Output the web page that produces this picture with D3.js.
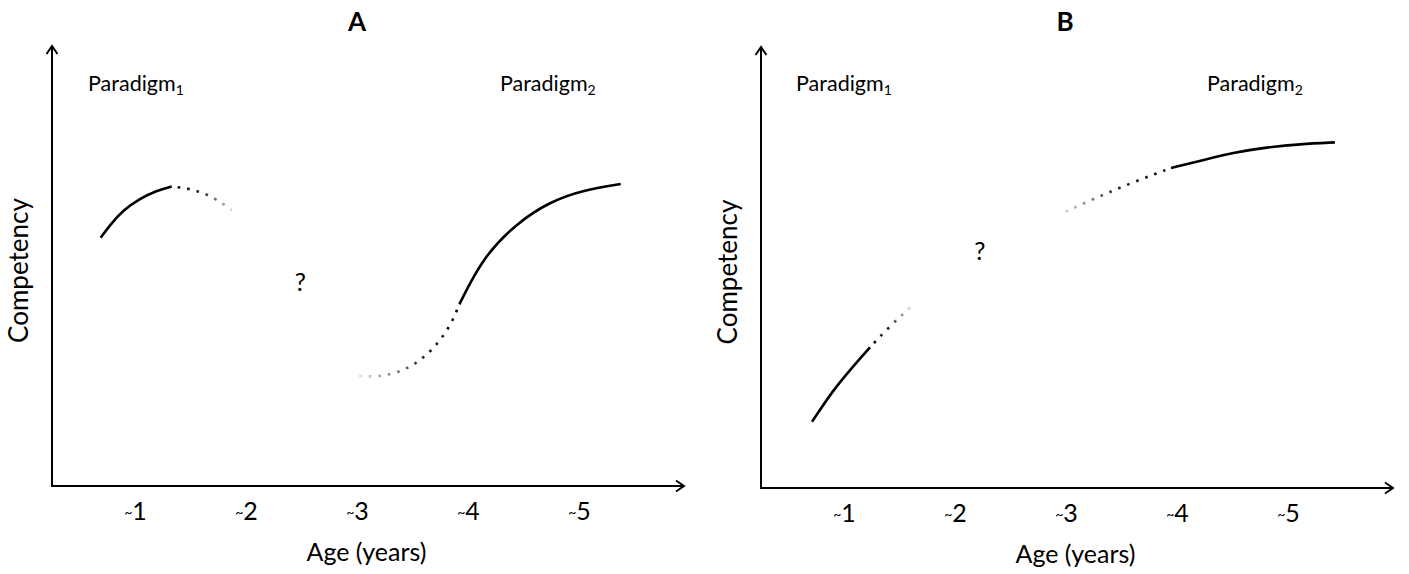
<!DOCTYPE html>
<html><head><meta charset="utf-8">
<script src="https://cdn.jsdelivr.net/npm/d3@7"></script>
<style>
body{margin:0;background:#fff}
text{font-family:Lato,"Open Sans",sans-serif;fill:#000}
</style>
</head><body>
<svg id="c" width="1409" height="574"></svg>
<script>
// ---------- data ----------
const panelTitles = ["A", "B"];
const tickYears = [1, 2, 3, 4, 5];
const tickLabels = ["~1", "~2", "~3", "~4", "~5"];
const xTitle = "Age (years)";
const yTitle = "Competency";
const paradigmNames = ["Paradigm", "Paradigm"];
const paradigmSubs = ["1", "2"];
const questionMark = "?";

// Panel A  [age (years), competency 0-100]
const a1Solid  = [[0.691,56.3],[0.775,59.2],[0.895,62.6],[1.045,65.2],[1.195,67.0],[1.331,67.9]];
const a1Dotted = [[1.331,67.9],[1.484,67.5],[1.651,66.2],[1.802,63.9],[1.874,62.5]];
const a2Dotted = [[3.003,25.0],[3.180,24.7],[3.354,25.6],[3.511,27.4],[3.651,30.2],[3.768,33.6],[3.859,37.3],[3.922,41.2]];
const a2Solid  = [[3.922,41.2],[4.138,52.0],[4.439,59.6],[4.739,64.5],[5.039,67.1],[5.376,68.5]];
const aParadigmPos = [[0.577,89.6],[4.288,89.6]];
const aQuestionPos = [2.49,44.9];

// Panel B
const b1Solid  = [[0.712,15.0],[0.904,22.2],[1.054,26.7],[1.234,31.8]];
const b1Dotted = [[1.234,31.8],[1.403,36.4],[1.601,40.95]];
const b2Dotted = [[2.961,62.1],[3.282,65.8],[3.606,69.2],[3.946,72.4]];
const b2Solid  = [[3.946,72.4],[4.207,74.0],[4.508,75.9],[4.809,77.1],[5.108,77.8],[5.423,78.2]];
const bParadigmPos = [[0.568,89.8],[4.270,89.8]];
const bQuestionPos = [2.225,52.3];

// ---------- layout ----------
const panels = [
  {title: panelTitles[0], xr: [24, 579], yr: [486, 45], axisX: 52, axisEnd: 685, titleX: 357,
   yTitleX: 28, solids: [a1Solid, a2Solid], dotted: [{pts: a1Dotted, fromStart: true}, {pts: a2Dotted, fromStart: false}],
   par: aParadigmPos, q: aQuestionPos},
  {title: panelTitles[1], xr: [733, 1288], yr: [488, 46], axisX: 761, axisEnd: 1394, titleX: 1065,
   yTitleX: 737, solids: [b1Solid, b2Solid], dotted: [{pts: b1Dotted, fromStart: true}, {pts: b2Dotted, fromStart: false}],
   par: bParadigmPos, q: bQuestionPos}
];

const svg = d3.select("#c");
const defs = svg.append("defs");
defs.append("marker").attr("id", "arr").attr("markerUnits", "userSpaceOnUse")
  .attr("viewBox", "-10 -7 12 14").attr("refX", 0).attr("refY", 0)
  .attr("markerWidth", 12).attr("markerHeight", 14).attr("orient", "auto")
  .append("path").attr("d", "M-8,-5.5L0,0L-8,5.5").attr("fill", "none")
  .attr("stroke", "#000").attr("stroke-width", 2);

let gid = 0;
panels.forEach(p => {
  const x = d3.scaleLinear().domain([0, 5]).range(p.xr);
  const y = d3.scaleLinear().domain([0, 100]).range(p.yr);
  const g = svg.append("g");
  const y0 = y(0), yTop = y(100);

  // axes
  g.append("line").attr("x1", p.axisX).attr("y1", y0).attr("x2", p.axisX).attr("y2", yTop + 1)
    .attr("stroke", "#000").attr("stroke-width", 2).attr("marker-end", "url(#arr)");
  g.append("line").attr("x1", p.axisX - 1).attr("y1", y0).attr("x2", p.axisEnd - 1).attr("y2", y0)
    .attr("stroke", "#000").attr("stroke-width", 2.2).attr("marker-end", "url(#arr)");

  // ticks via d3 axis (labels only)
  const ax = d3.axisBottom(x).tickValues(tickYears).tickSize(0).tickPadding(0)
    .tickFormat((d, i) => tickLabels[i]);
  const axG = g.append("g").attr("transform", `translate(0,${y0 + 34})`).call(ax);
  axG.select(".domain").remove();
  axG.selectAll("text").attr("dy", null).attr("y", 0).text(null)
    .style("font-size", "25px").style("font-family", "Lato, 'Open Sans', sans-serif")
    .each(function(d, i) {
      const t = d3.select(this);
      const lab = tickLabels[i];
      t.append("tspan").attr("font-size", "14px").attr("dy", "-3").text(lab[0]);
      t.append("tspan").attr("dy", "3").text(lab.slice(1));
    });

  // titles
  g.append("text").attr("x", p.titleX).attr("y", 31).attr("text-anchor", "middle")
    .attr("font-weight", "bold").attr("font-size", "26px").text(p.title);
  g.append("text").attr("x", (p.axisX + p.axisEnd) / 2 - 2).attr("y", y0 + 75).attr("text-anchor", "middle")
    .attr("font-size", "25px").text(xTitle);
  g.append("text").attr("transform", `translate(${p.yTitleX},${(y0 + yTop) / 2 + 5}) rotate(-90)`)
    .attr("text-anchor", "middle").attr("font-size", "26px").text(yTitle);

  // paradigm labels
  p.par.forEach((pos, i) => {
    const t = g.append("text").attr("x", x(pos[0])).attr("y", y(pos[1])).attr("font-size", "21.5px");
    t.append("tspan").text(paradigmNames[i]);
    t.append("tspan").attr("font-size", "14px").attr("dy", "4").text(paradigmSubs[i]);
  });
  g.append("text").attr("x", x(p.q[0])).attr("y", y(p.q[1]) + 3).attr("text-anchor", "middle")
    .attr("font-size", "25px").text(questionMark);

  const line = d3.line().x(d => x(d[0])).y(d => y(d[1])).curve(d3.curveBasis);

  p.solids.forEach(s => {
    g.append("path").attr("d", line(s)).attr("fill", "none").attr("stroke", "#000")
      .attr("stroke-width", 2.6).attr("stroke-linecap", "butt");
  });

  p.dotted.forEach(dd => {
    const pts = dd.fromStart ? dd.pts : dd.pts.slice().reverse();
    const a = pts[0], b = pts[pts.length - 1];
    const id = "grad" + (gid++);
    const gr = defs.append("linearGradient").attr("id", id).attr("gradientUnits", "userSpaceOnUse")
      .attr("x1", x(a[0])).attr("y1", y(a[1])).attr("x2", x(b[0])).attr("y2", y(b[1]));
    gr.append("stop").attr("offset", 0).attr("stop-color", "#000");
    gr.append("stop").attr("offset", 0.5).attr("stop-color", "#2a2a2a");
    gr.append("stop").attr("offset", 1).attr("stop-color", "#dcdcdc");
    g.append("path").attr("d", line(pts)).attr("fill", "none").attr("stroke", `url(#${id})`)
      .attr("stroke-width", 2.6).attr("stroke-dasharray", "2.6 7").attr("stroke-dashoffset", 3.6);
  });
});
</script>
</body></html>
